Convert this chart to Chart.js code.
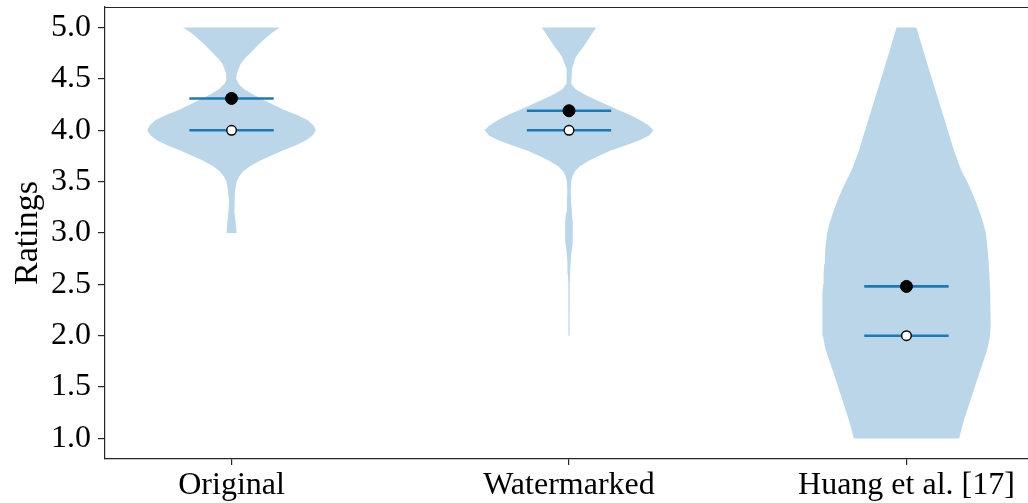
<!DOCTYPE html>
<html><head><meta charset="utf-8">
<script src="https://cdn.jsdelivr.net/npm/chart.js@4.4.1/dist/chart.umd.min.js"></script>
<style>html,body{margin:0;padding:0;background:#fff;overflow:hidden;width:1028px;height:503px}
canvas{display:block}</style></head>
<body><canvas id="c" width="1040" height="503" style="width:1040px;height:503px"></canvas>
<script>
// ---- data ----
const categories = ['Original', 'Watermarked', 'Huang et al. [17]'];
const positions = [1, 2, 3];
const means = [4.31, 4.19, 2.48];
const medians = [4.0, 4.0, 2.0];
const yTicks = [1.0, 1.5, 2.0, 2.5, 3.0, 3.5, 4.0, 4.5, 5.0];

// violin outlines: rating level and relative density (1 = widest)
const originalLevels  = [5.00,4.95,4.90,4.85,4.80,4.75,4.70,4.65,4.60,4.55,4.50,4.45,4.40,4.35,4.30,4.25,4.20,4.15,4.10,4.05,4.00,3.95,3.90,3.85,3.80,3.75,3.70,3.65,3.60,3.55,3.50,3.40,3.30,3.20,3.10,3.00];
const originalDensity = [0.574,0.48,0.41,0.34,0.28,0.22,0.16,0.11,0.085,0.063,0.056,0.085,0.15,0.25,0.37,0.49,0.62,0.77,0.90,0.97,1.00,0.96,0.88,0.75,0.60,0.46,0.33,0.22,0.14,0.09,0.06,0.04,0.03,0.038,0.05,0.06];

const watermarkedLevels  = [5.00,4.95,4.90,4.85,4.80,4.75,4.70,4.65,4.60,4.55,4.50,4.45,4.40,4.35,4.30,4.25,4.20,4.15,4.10,4.05,4.00,3.95,3.90,3.85,3.80,3.75,3.70,3.65,3.60,3.55,3.50,3.40,3.30,3.20,3.10,3.00,2.90,2.80,2.70,2.60,2.50,2.40,2.30,2.20,2.10,2.00];
const watermarkedDensity = [0.325,0.28,0.24,0.20,0.16,0.11,0.075,0.055,0.035,0.026,0.024,0.033,0.08,0.18,0.31,0.44,0.58,0.72,0.84,0.94,1.00,0.95,0.83,0.66,0.49,0.35,0.23,0.13,0.07,0.04,0.025,0.02,0.025,0.035,0.045,0.047,0.04,0.027,0.018,0.013,0.01,0.008,0.007,0.006,0.005,0.005];

const huangLevels  = [5.00,4.80,4.60,4.40,4.20,4.00,3.80,3.70,3.60,3.50,3.40,3.30,3.20,3.10,3.00,2.90,2.80,2.70,2.60,2.50,2.40,2.30,2.20,2.10,2.00,1.95,1.90,1.85,1.80,1.70,1.60,1.50,1.40,1.30,1.20,1.10,1.00];
const huangDensity = [0.118,0.19,0.265,0.34,0.415,0.49,0.564,0.608,0.655,0.72,0.775,0.825,0.87,0.91,0.94,0.955,0.966,0.975,0.982,0.988,0.993,0.997,1.00,0.998,0.99,0.98,0.968,0.952,0.932,0.89,0.85,0.81,0.77,0.73,0.69,0.655,0.625];

const violinLevels = [originalLevels, watermarkedLevels, huangLevels];
const violinDensity = [originalDensity, watermarkedDensity, huangDensity];

// ---- styles ----
const VIOLIN_WIDTH = 0.5;
const BLUE = '#1f77b4';
const FILL = 'rgba(31,119,180,0.3)';
const FONT = 'Liberation Serif';

Chart.defaults.font.family = FONT;
Chart.defaults.color = '#000';

const datasets = [];
// markers on top
datasets.push({
  type: 'scatter', order: 0,
  data: positions.map((p, i) => ({x: p, y: medians[i]})),
  pointRadius: 4.8, pointBorderWidth: 1.4,
  pointBackgroundColor: '#ffffff', pointBorderColor: '#000000'
});
datasets.push({
  type: 'scatter', order: 0,
  data: positions.map((p, i) => ({x: p, y: means[i]})),
  pointRadius: 6, pointBorderWidth: 1,
  pointBackgroundColor: '#000000', pointBorderColor: '#000000'
});
// mean / median bars
positions.forEach((p, i) => {
  [means[i], medians[i]].forEach(v => {
    datasets.push({
      type: 'line', order: 1,
      data: [{x: p - VIOLIN_WIDTH / 4, y: v}, {x: p + VIOLIN_WIDTH / 4, y: v}],
      borderColor: BLUE, borderWidth: 2.6, pointRadius: 0, fill: false, tension: 0
    });
  });
});
// violin bodies
positions.forEach((p, i) => {
  const lv = violinLevels[i], d = violinDensity[i];
  const right = lv.map((y, k) => ({x: p + d[k] * VIOLIN_WIDTH / 2, y}));
  const left = lv.map((y, k) => ({x: p - d[k] * VIOLIN_WIDTH / 2, y})).reverse();
  datasets.push({
    type: 'line', order: 2,
    data: right.concat(left),
    borderWidth: 0, borderColor: 'rgba(0,0,0,0)',
    backgroundColor: FILL, fill: 'shape', pointRadius: 0, tension: 0
  });
});

const framePlugin = {
  id: 'frame',
  afterDraw(chart) {
    const {ctx, chartArea: a} = chart;
    ctx.save();
    ctx.strokeStyle = '#262626';
    ctx.lineWidth = 1.2;
    ctx.beginPath();
    ctx.moveTo(a.left, a.top + 0.5);
    ctx.lineTo(a.right, a.top + 0.5);
    ctx.lineTo(a.right, a.bottom);
    ctx.stroke();
    ctx.restore();
  }
};

new Chart(document.getElementById('c'), {
  type: 'scatter',
  data: {datasets},
  plugins: [framePlugin],
  options: {
    responsive: false, animation: false, devicePixelRatio: 1,
    layout: {padding: {top: 6, right: 4, left: 0, bottom: 0}},
    plugins: {legend: {display: false}, tooltip: {enabled: false}},
    scales: {
      x: {
        type: 'linear', min: 0.625, max: 3.375,
        afterBuildTicks: s => { s.ticks = positions.map(v => ({value: v})); },
        afterFit: s => { s.height = 44; s.paddingLeft = 0; s.paddingRight = 0; },
        ticks: {
          autoSkip: false, maxRotation: 0, padding: 1,
          font: {size: 32, family: FONT}, color: '#000',
          callback: v => categories[positions.indexOf(v)]
        },
        grid: {drawOnChartArea: false, drawTicks: true, tickLength: 6, color: '#262626', lineWidth: 1.2},
        border: {display: true, color: '#262626', width: 1.2}
      },
      y: {
        type: 'linear', min: 0.8, max: 5.2,
        afterBuildTicks: s => { s.ticks = yTicks.map(v => ({value: v})); },
        afterFit: s => { s.width = 105; s.paddingTop = 0; s.paddingBottom = 0; },
        ticks: {
          padding: 7, font: {size: 32, family: FONT}, color: '#000',
          callback: v => Number(v).toFixed(1)
        },
        title: {display: true, text: 'Ratings', font: {size: 34, family: FONT}, color: '#000', padding: {top: 8, bottom: 0}},
        grid: {drawOnChartArea: false, drawTicks: true, tickLength: 7, color: '#262626', lineWidth: 1.2},
        border: {display: true, color: '#262626', width: 1.2}
      }
    }
  }
});
</script>
</body></html>
